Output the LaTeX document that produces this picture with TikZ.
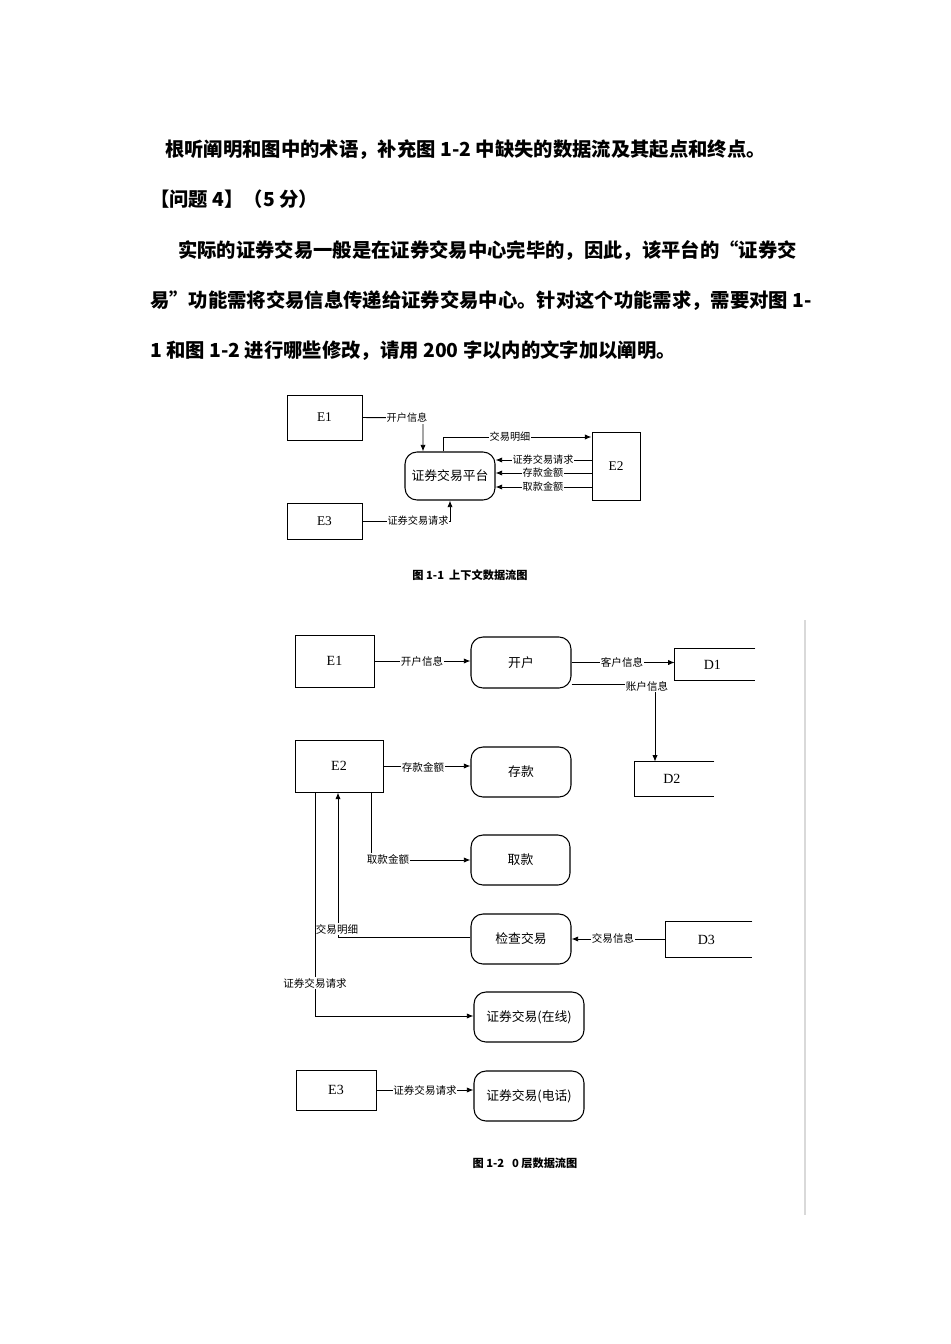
\documentclass[tikz,border=0pt]{standalone}
\usepackage{fontspec}
\setmainfont{Liberation Serif}
\newfontfamily\cjk{Noto Sans CJK SC}
\usetikzlibrary{arrows.meta,fit}
\begin{document}
\begin{tikzpicture}[x=0.75pt,y=-0.75pt,
  box/.style={draw,line width=0.75pt,inner sep=0pt,font=\fontsize{10}{12}\selectfont},
  store/.style={inner sep=0pt,font=\fontsize{10}{12}\selectfont},
  proc/.style={draw,line width=0.8pt,rounded corners=9pt,inner sep=0pt,font=\cjk\fontsize{9.6}{12}\selectfont},
  flow/.style={line width=0.7pt,-{Latex[length=5pt,width=4pt]}},
  plain/.style={line width=0.75pt},
  lab/.style={fill=white,inner sep=0.6pt,font=\cjk\fontsize{7.6}{9}\selectfont},
  labb/.style={fill=white,inner sep=0.6pt,font=\cjk\fontsize{7.9}{9}\selectfont},
  para/.style={anchor=west,inner sep=0pt,font=\cjk\bfseries\fontsize{14.5}{16}\selectfont},
  figcap/.style={inner sep=0pt,font=\cjk\bfseries\fontsize{8.4}{10}\selectfont}]
\useasboundingbox[fill=white] (0,0) rectangle (950,1344);

% ---------- top text ----------
\node[para] (t1) at (165,150) {根听阐明和图中的术语，补充图 1-2 中缺失的数据流及其起点和终点。};
\node[para] (t2) at (150,199) {【问题 4】（5 分）};
\node[para] (t3) at (178,251) {实际的证券交易一般是在证券交易中心完毕的，因此，该平台的“证券交};
\node[para] (t4) at (150,301) {易”功能需将交易信息传递给证券交易中心。针对这个功能需求，需要对图 1-};
\node[para] (t5) at (150,351) {1 和图 1-2 进行哪些修改，请用 200 字以内的文字加以阐明。};

% ---------- Figure 1-1 ----------
\node[box,fit={(287,395)(362,440)}] (E1a) {};
\node[font=\fontsize{10}{12}\selectfont] at (E1a) {E1};
\node[box,fit={(592,432)(640,500)}] (E2a) {};
\node[font=\fontsize{10}{12}\selectfont] at (E2a) {E2};
\node[box,fit={(287,503)(362,539)}] (E3a) {};
\node[font=\fontsize{10}{12}\selectfont] at (E3a) {E3};
\node[proc,fit={(405,452)(495,500)}] (P1) {};
\node[font=\cjk\fontsize{9.6}{12}\selectfont] at (P1) {证券交易平台};

\coordinate (c1) at (423,418);
\draw[flow] (E1a.east) -- (c1) -- (c1 |- P1.north);
\node[lab] at (407,418) {开户信息};

\coordinate (c2) at (443,437);
\draw[flow] (c2 |- P1.north) -- (c2) -- (c2 -| E2a.west);
\node[lab] at (510,437) {交易明细};

\coordinate (r1) at (0,460);
\coordinate (r2) at (0,473);
\coordinate (r3) at (0,487);
\draw[flow] (E2a.west |- r1) -- (P1.east |- r1);
\draw[flow] (E2a.west |- r2) -- (P1.east |- r2);
\draw[flow] (E2a.west |- r3) -- (P1.east |- r3);
\node[lab] at (543,460) {证券交易请求};
\node[lab] at (543,473) {存款金额};
\node[lab] at (543,487) {取款金额};

\draw[flow] (E3a.east) -- (E3a.east -| P1.south) -- (P1.south);
\node[lab] at (418,521) {证券交易请求};

\node[figcap] (cap1) at (470,575) {图 1-1\ \ 上下文数据流图};

% ---------- Figure 1-2 ----------
\draw[gray!30,line width=0.8pt] (805,620) -- (805,1215);

\node[box,fit={(295,635)(374,687)}] (E1b) {};
\node[font=\fontsize{10.5}{12}\selectfont] at (E1b) {E1};
\node[box,fit={(295,740)(383,792)}] (E2b) {};
\node[font=\fontsize{10.5}{12}\selectfont] at (E2b) {E2};
\node[box,fit={(296,1070)(376,1110)}] (E3b) {};
\node[font=\fontsize{10.5}{12}\selectfont] at (E3b) {E3};

\node[proc,fit={(471,637)(571,688)}] (kh) {};
\node[font=\cjk\fontsize{9.6}{12}\selectfont] at (kh) {开户};
\node[proc,fit={(471,747)(571,797)}] (ck) {};
\node[font=\cjk\fontsize{9.6}{12}\selectfont] at (ck) {存款};
\node[proc,fit={(471,835)(570,885)}] (qk) {};
\node[font=\cjk\fontsize{9.6}{12}\selectfont] at (qk) {取款};
\node[proc,fit={(471,914)(571,964)}] (jc) {};
\node[font=\cjk\fontsize{9.6}{12}\selectfont] at (jc) {检查交易};
\node[proc,fit={(474,992)(584,1042)}] (zx) {};
\node[font=\cjk\fontsize{9.6}{12}\selectfont] at (zx) {证券交易(在线)};
\node[proc,fit={(474,1071)(584,1121)}] (dh) {};
\node[font=\cjk\fontsize{9.6}{12}\selectfont] at (dh) {证券交易(电话)};

% data stores (open on the right)
\node[store,fit={(675,649)(755,680)}] (D1) {};
\draw[plain] (D1.north east) -- (D1.north west) -- (D1.south west) -- (D1.south east);
\node[font=\fontsize{10.5}{12}\selectfont] at ([xshift=-2pt]D1.center) {D1};
\node[store,fit={(635,762)(714,796)}] (D2) {};
\draw[plain] (D2.north east) -- (D2.north west) -- (D2.south west) -- (D2.south east);
\node[font=\fontsize{10.5}{12}\selectfont] at ([xshift=-2pt]D2.center) {D2};
\node[store,fit={(666,922)(752,957)}] (D3) {};
\draw[plain] (D3.north east) -- (D3.north west) -- (D3.south west) -- (D3.south east);
\node[font=\fontsize{10.5}{12}\selectfont] at ([xshift=-2pt]D3.center) {D3};

% flows
\draw[flow] (E1b.east) -- (E1b.east -| kh.west);
\node[labb] at (422,661) {开户信息};

\draw[flow] (kh.east) -- (kh.east -| D1.west);
\node[labb] at (622,662) {客户信息};

\coordinate (c4) at (655,684);
\draw[flow] (c4 -| kh.east) -- (c4) -- (c4 |- D2.north);
\node[labb] at (647,686) {账户信息};

\draw[flow] (E2b.east) -- (E2b.east -| ck.west);
\node[labb] at (423,767) {存款金额};

\coordinate (c5) at (371,860);
\draw[flow] (c5 |- E2b.south) -- (c5) -- (c5 -| qk.west);
\node[labb] at (388,859) {取款金额};

\coordinate (c6) at (338,937);
\draw[flow] (jc.west |- c6) -- (c6) -- (c6 |- E2b.south);
\node[labb] at (337,929) {交易明细};

\coordinate (c7) at (315,1016);
\draw[flow] (c7 |- E2b.south) -- (c7) -- (c7 -| zx.west);
\node[labb] at (315,983) {证券交易请求};

\draw[flow] (D3.west |- jc.east) -- (jc.east);
\node[labb] at (613,938) {交易信息};

\draw[flow] (E3b.east) -- (E3b.east -| dh.west);
\node[labb] at (425,1090) {证券交易请求};

\node[figcap] (cap2) at (525,1163) {图 1-2\ \ \ 0 层数据流图};
\end{tikzpicture}
\end{document}
